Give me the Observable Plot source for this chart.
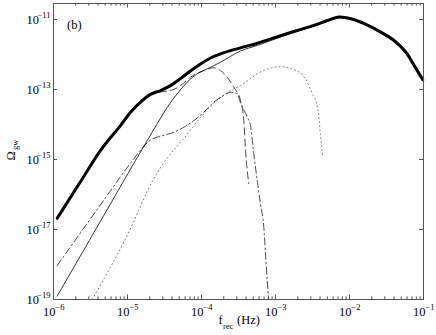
<!DOCTYPE html>
<html><head><meta charset="utf-8">
<script src="https://cdn.jsdelivr.net/npm/d3@7"></script>
<script src="https://cdn.jsdelivr.net/npm/@observablehq/plot@0.6"></script>
<style>body{margin:0;background:#fff}</style>
</head><body><div id="chart"></div>
<script>
// log10(f_rec [Hz]) and log10(Omega_gw)
const totalLogF = [-5.95, -5.8, -5.61, -5.364, -5.095, -4.959, -4.824, -4.689, -4.554, -4.419, -4.284, -4.149, -4.014, -3.878, -3.743, -3.473, -3.245, -2.93, -2.704, -2.48, -2.30, -2.14, -1.98, -1.80, -1.578, -1.398, -1.24, -1.127, -1.01];
const totalLogW = [-16.68, -16.18, -15.55, -14.74, -14.03, -13.65, -13.36, -13.14, -13.03, -12.89, -12.69, -12.47, -12.27, -12.1, -11.98, -11.81, -11.68, -11.46, -11.31, -11.17, -11.03, -10.93, -10.98, -11.12, -11.36, -11.6, -11.93, -12.31, -12.72];

const solidLogF = [-5.95, -5.4, -4.892, -4.734, -4.599, -4.464, -4.328, -4.193, -4.058, -3.923, -3.743, -3.473, -3.245, -2.93, -2.704, -2.48, -2.30, -2.14, -1.98, -1.80, -1.578, -1.398, -1.24, -1.127, -1.01];
const solidLogW = [-18.9, -16.89, -15.03, -14.46, -13.98, -13.51, -13.12, -12.79, -12.55, -12.41, -12.22, -11.9, -11.74, -11.5, -11.34, -11.19, -11.05, -10.95, -11.0, -11.14, -11.38, -11.62, -11.95, -12.33, -12.74];

const dashedLogF = [-4.824, -4.689, -4.554, -4.419, -4.284, -4.149, -3.969, -3.834, -3.743, -3.653, -3.564, -3.473, -3.428, -3.405, -3.382, -3.361];
const dashedLogW = [-13.36, -13.15, -13.07, -13.03, -12.89, -12.65, -12.46, -12.38, -12.46, -12.65, -12.93, -13.31, -13.89, -14.74, -15.31, -15.69];

const dashDotLogF = [-5.95, -5.4, -4.915, -4.8, -4.7, -4.6, -4.509, -4.374, -4.239, -4.104, -3.969, -3.834, -3.699, -3.608, -3.518, -3.473, -3.382, -3.338, -3.293, -3.247, -3.203, -3.158, -3.135, -3.112, -3.091];
const dashDotLogW = [-18.03, -16.4, -14.98, -14.67, -14.46, -14.36, -14.31, -14.22, -14.08, -13.89, -13.65, -13.36, -13.17, -13.08, -13.12, -13.37, -13.79, -14.03, -14.84, -15.6, -16.27, -16.93, -17.69, -18.46, -19.0];

const dottedLogF = [-5.477, -5.0, -4.645, -4.464, -4.239, -4.014, -3.743, -3.608, -3.473, -3.212, -2.942, -2.672, -2.572, -2.507, -2.423, -2.392, -2.362];
const dottedLogW = [-19.0, -17.15, -15.55, -14.96, -14.4, -13.8, -13.23, -13.03, -12.89, -12.51, -12.35, -12.51, -12.79, -13.09, -13.6, -14.31, -14.94];

const xTickExps = [-6, -5, -4, -3, -2, -1];
const yTickExps = [-11, -13, -15, -17, -19];
const minorMultipliers = [2, 3, 4, 5, 6, 7, 8, 9];

const toRows = (lf, lw) => lf.map((f, i) => ({f: 10 ** f, w: 10 ** lw[i]}));
const xMajor = xTickExps.map(e => 10 ** e);
const xMinor = xTickExps.slice(0, -1).flatMap(e => minorMultipliers.map(m => m * 10 ** e));
const yMajor = yTickExps.map(e => 10 ** e);

const W = 436, H = 335, mL = 53, mR = 13, mT = 3, mB = 36;
const pw = W - mL - mR, ph = H - mT - mB;
const font = "Liberation Serif, Times New Roman, serif";
const minus = e => String(e).replace("-", "\u2212");
const axisColor = "#555";

const smooth = {x: "f", y: "w", curve: "catmull-rom"};
const mono = {x: "f", y: "w", curve: "monotone-x"};

const plot = Plot.plot({
  width: W, height: H,
  marginLeft: mL, marginRight: mR, marginTop: mT, marginBottom: mB,
  style: {fontFamily: font, background: "#fff"},
  x: {type: "log", domain: [1e-6, 1e-1], axis: null},
  y: {type: "log", domain: [1e-19, 10 ** -10.543], axis: null},
  marks: [
    Plot.line(toRows(dottedLogF, dottedLogW), {...mono, stroke: "#777", strokeWidth: 1, strokeDasharray: "1,3"}),
    Plot.line(toRows(dashDotLogF, dashDotLogW), {...mono, stroke: "#333", strokeWidth: 0.9, strokeDasharray: "7,3,1.5,3"}),
    Plot.line(toRows(dashedLogF, dashedLogW), {...mono, stroke: "#333", strokeWidth: 0.9, strokeDasharray: "7,4"}),
    Plot.line(toRows(solidLogF, solidLogW), {...smooth, stroke: "#000", strokeWidth: 0.8}),
    Plot.line(toRows(totalLogF, totalLogW), {...smooth, stroke: "#000", strokeWidth: 3}),
    Plot.frame({stroke: axisColor, strokeWidth: 1}),
    // inward ticks
    Plot.tickX(xMajor, {x: d => d, insetTop: ph - 4.5, stroke: axisColor}),
    Plot.tickX(xMajor, {x: d => d, insetBottom: ph - 4.5, stroke: axisColor}),
    Plot.tickX(xMinor, {x: d => d, insetTop: ph - 2.7, stroke: axisColor}),
    Plot.tickX(xMinor, {x: d => d, insetBottom: ph - 2.7, stroke: axisColor}),
    Plot.tickY(yMajor, {y: d => d, insetRight: pw - 4, stroke: axisColor}),
    Plot.tickY(yMajor, {y: d => d, insetLeft: pw - 4, stroke: axisColor}),
    // x tick labels
    Plot.text(xMajor, {x: d => d, frameAnchor: "bottom", text: () => "10", textAnchor: "end", lineAnchor: "middle", dx: 2, dy: 12, fontSize: 12.5, fill: "#000"}),
    Plot.text(xTickExps, {x: e => 10 ** e, frameAnchor: "bottom", text: e => minus(e), textAnchor: "start", lineAnchor: "middle", dx: 2, dy: 7.5, fontSize: 8.5, fill: "#000"}),
    // y tick labels
    Plot.text(yMajor, {y: d => d, frameAnchor: "left", text: () => "10", textAnchor: "end", lineAnchor: "middle", dx: -14.5, dy: 0.5, fontSize: 12.5, fill: "#000"}),
    Plot.text(yTickExps, {y: e => 10 ** e, frameAnchor: "left", text: e => minus(e), textAnchor: "end", lineAnchor: "middle", dx: -3, dy: -4, fontSize: 8.5, fill: "#000"}),
    // axis labels
    Plot.text(["f"], {frameAnchor: "bottom", text: d => d, textAnchor: "start", lineAnchor: "middle", dx: -20, dy: 20, fontSize: 12.5, fill: "#000"}),
    Plot.text(["rec"], {frameAnchor: "bottom", text: d => d, textAnchor: "start", lineAnchor: "middle", dx: -15.5, dy: 26.5, fontSize: 8.5, fill: "#000"}),
    Plot.text(["(Hz)"], {frameAnchor: "bottom", text: d => d, textAnchor: "start", lineAnchor: "middle", dx: -1.5, dy: 20, fontSize: 12.5, fill: "#000"}),
    Plot.text(["\u03A9"], {frameAnchor: "left", text: d => d, rotate: -90, textAnchor: "start", lineAnchor: "middle", dx: -43, dy: 9, fontSize: 12.5, fill: "#000"}),
    Plot.text(["gw"], {frameAnchor: "left", text: d => d, rotate: -90, textAnchor: "start", lineAnchor: "middle", dx: -38.5, dy: -1.5, fontSize: 8.5, fill: "#000"}),
    Plot.text(["(b)"], {frameAnchor: "top-left", text: d => d, textAnchor: "start", lineAnchor: "middle", dx: 13.5, dy: 21.2, fontSize: 12.5, fill: "#000"})
  ]
});
document.getElementById("chart").append(plot);
</script>
</body></html>
